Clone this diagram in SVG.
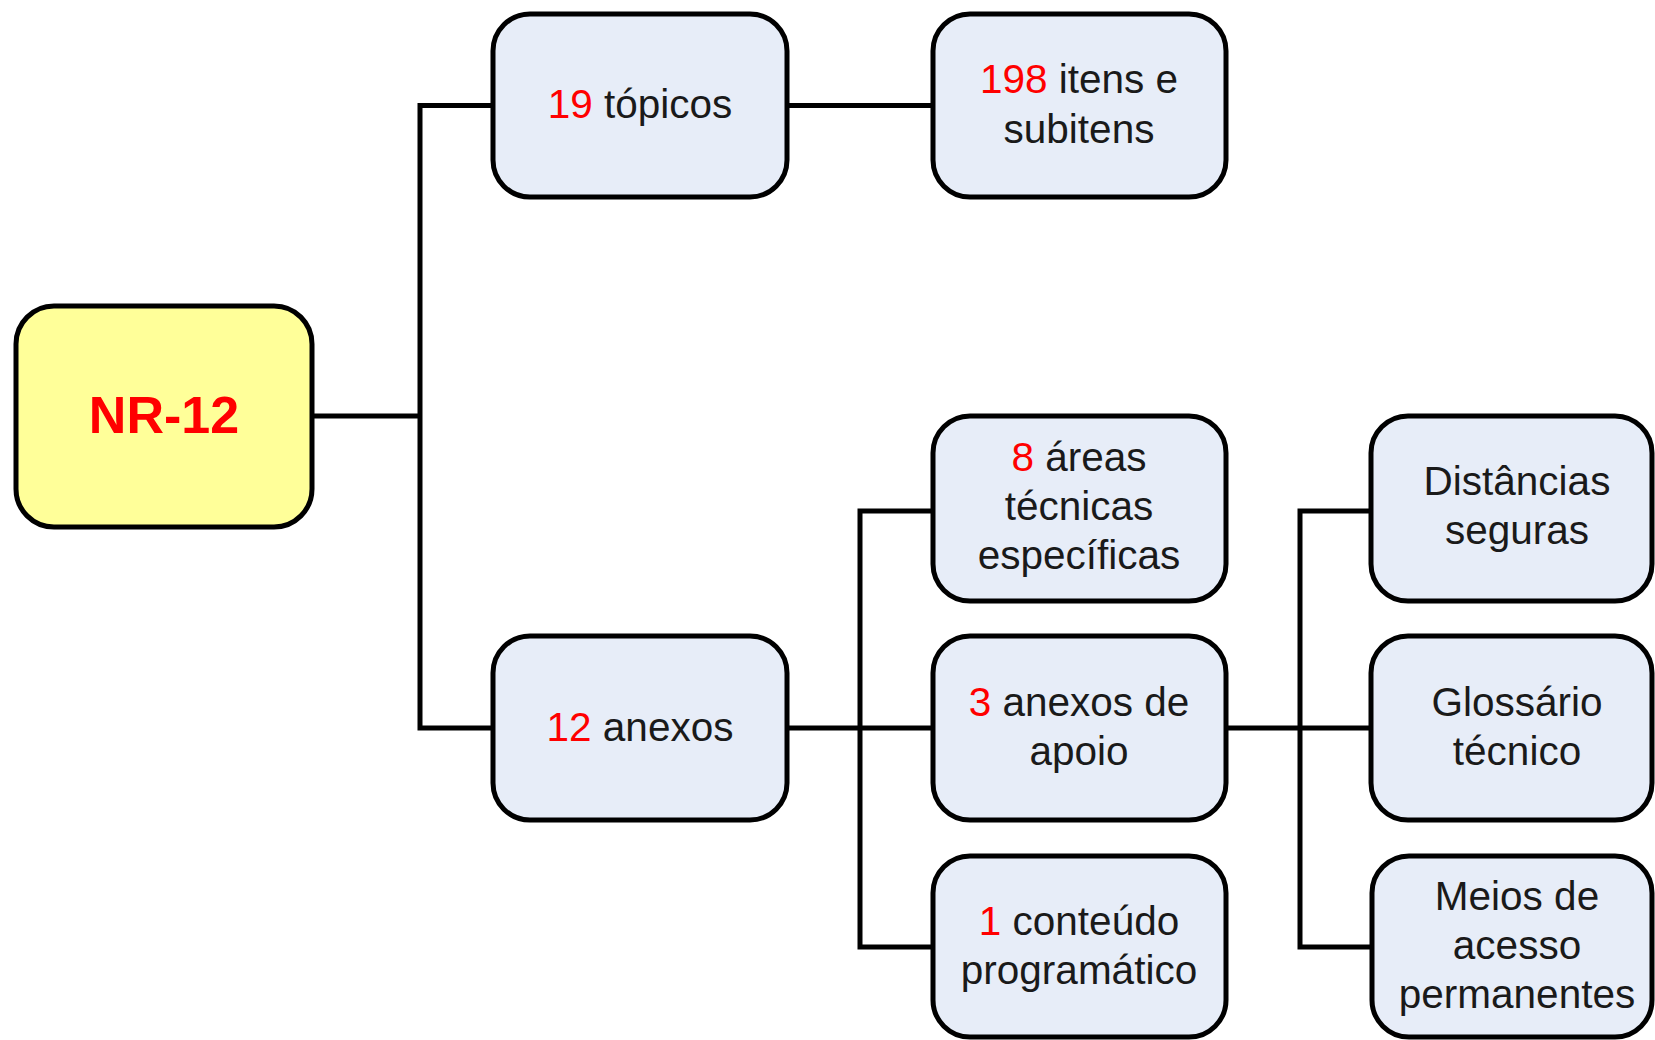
<svg xmlns="http://www.w3.org/2000/svg" width="1655" height="1040" viewBox="0 0 1655 1040">
<style>
.box{fill:#E7EDF8;stroke:#000;stroke-width:5}
.root{fill:#FFFF99;stroke:#000;stroke-width:5}
.t{font-family:"Liberation Sans",Arial,sans-serif;font-size:40.5px;fill:#1a1a1a;text-anchor:middle}
.n{fill:#FF0000}
.rt{font-family:"Liberation Sans",Arial,sans-serif;font-size:52px;font-weight:bold;fill:#FF0000;text-anchor:middle}
.c{fill:none;stroke:#000;stroke-width:5;stroke-linejoin:miter;stroke-linecap:square}
</style>
<rect width="1655" height="1040" fill="#fff"/>
<g id="connectors">
<path class="c" d="M313,416 H420 M420,105.5 V728 M420,105.5 H493 M420,728 H493"/>
<path class="c" d="M787,105.5 H933"/>
<path class="c" d="M787,728 H933 M860,511 V947 M860,511 H933 M860,947 H933"/>
<path class="c" d="M1226,728 H1371 M1300,511 V947 M1300,511 H1371 M1300,947 H1371"/>
</g>
<g id="nr12">
<rect class="root" x="16" y="306" width="296" height="221" rx="38"/>
<text class="rt" x="164" y="433">NR-12</text>
</g>
<g id="topicos">
<rect class="box" x="493" y="14" width="294" height="183" rx="37"/>
<text class="t" x="640" y="118"><tspan class="n">19</tspan> tópicos</text>
</g>
<g id="itens">
<rect class="box" x="933" y="14" width="293" height="183" rx="37"/>
<text class="t" x="1079" y="93"><tspan class="n">198</tspan> itens e</text>
<text class="t" x="1079" y="143">subitens</text>
</g>
<g id="anexos">
<rect class="box" x="493" y="636" width="294" height="184" rx="37"/>
<text class="t" x="640" y="741"><tspan class="n">12</tspan> anexos</text>
</g>
<g id="areas">
<rect class="box" x="933" y="416" width="293" height="185" rx="37"/>
<text class="t" x="1079" y="471"><tspan class="n">8</tspan> áreas</text>
<text class="t" x="1079" y="520">técnicas</text>
<text class="t" x="1079" y="569">específicas</text>
</g>
<g id="apoio">
<rect class="box" x="933" y="636" width="293" height="184" rx="37"/>
<text class="t" x="1079" y="716"><tspan class="n">3</tspan> anexos de</text>
<text class="t" x="1079" y="765">apoio</text>
</g>
<g id="conteudo">
<rect class="box" x="933" y="856" width="293" height="181" rx="37"/>
<text class="t" x="1079" y="935"><tspan class="n">1</tspan> conteúdo</text>
<text class="t" x="1079" y="984">programático</text>
</g>
<g id="distancias">
<rect class="box" x="1371" y="416" width="281" height="185" rx="37"/>
<text class="t" x="1517" y="495">Distâncias</text>
<text class="t" x="1517" y="544">seguras</text>
</g>
<g id="glossario">
<rect class="box" x="1371" y="636" width="281" height="184" rx="37"/>
<text class="t" x="1517" y="716">Glossário</text>
<text class="t" x="1517" y="765">técnico</text>
</g>
<g id="meios">
<rect class="box" x="1372" y="856" width="280" height="181" rx="37"/>
<text class="t" x="1517" y="910">Meios de</text>
<text class="t" x="1517" y="959">acesso</text>
<text class="t" x="1517" y="1008">permanentes</text>
</g>
</svg>
